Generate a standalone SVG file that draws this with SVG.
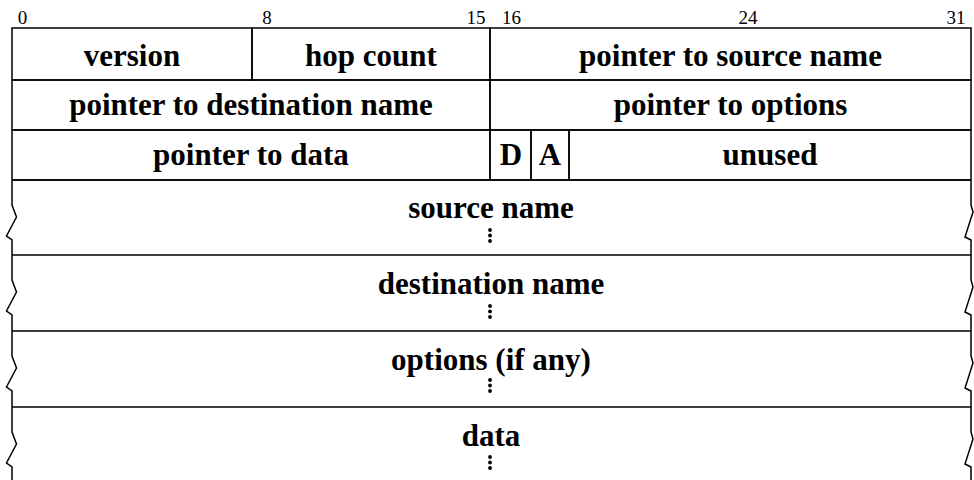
<svg xmlns="http://www.w3.org/2000/svg" width="974" height="480" viewBox="0 0 974 480">
  <style>
    .box { fill: none; stroke: #000; stroke-width: 1.5; stroke-linejoin: miter; }
    .lbl { font-family: "Liberation Serif", "Times New Roman", serif; font-weight: bold; font-size: 31px; fill: #000; text-anchor: middle; }
    .bit { font-family: "Liberation Serif", "Times New Roman", serif; font-size: 19px; fill: #000; text-anchor: middle; }
    .dot { fill: #000; }
  </style>
  <defs>
    <!-- vertical ellipsis marking a variable-length field -->
    <g id="vdots">
      <circle class="dot" cx="0" cy="0" r="1.9"/>
      <circle class="dot" cx="0" cy="5.5" r="1.9"/>
      <circle class="dot" cx="0" cy="11" r="1.9"/>
    </g>
  </defs>
  <rect width="974" height="480" fill="#fff"/>

  <!-- bit positions -->
  <g id="bit-ruler">
    <text class="bit" x="22.5" y="24">0</text>
    <text class="bit" x="267" y="24">8</text>
    <text class="bit" x="476" y="24">15</text>
    <text class="bit" x="511.5" y="24">16</text>
    <text class="bit" x="748" y="24">24</text>
    <text class="bit" x="956" y="24">31</text>
  </g>

  <!-- fixed header words -->
  <g id="version">
    <rect class="box" x="12" y="28" width="240" height="52"/>
    <text class="lbl" x="132" y="66">version</text>
  </g>
  <g id="hop-count">
    <rect class="box" x="252" y="28" width="238" height="52"/>
    <text class="lbl" x="371" y="66">hop count</text>
  </g>
  <g id="ptr-source-name">
    <rect class="box" x="490" y="28" width="481" height="52"/>
    <text class="lbl" x="730.5" y="66">pointer to source name</text>
  </g>
  <g id="ptr-destination-name">
    <rect class="box" x="12" y="80" width="478" height="50"/>
    <text class="lbl" x="251" y="115">pointer to destination name</text>
  </g>
  <g id="ptr-options">
    <rect class="box" x="490" y="80" width="481" height="50"/>
    <text class="lbl" x="730.5" y="115">pointer to options</text>
  </g>
  <g id="ptr-data">
    <rect class="box" x="12" y="130" width="478" height="50"/>
    <text class="lbl" x="251" y="165">pointer to data</text>
  </g>
  <g id="flag-d">
    <rect class="box" x="490" y="130" width="41" height="50"/>
    <text class="lbl" x="511" y="165">D</text>
  </g>
  <g id="flag-a">
    <rect class="box" x="531" y="130" width="38" height="50"/>
    <text class="lbl" x="550" y="165">A</text>
  </g>
  <g id="unused">
    <rect class="box" x="569" y="130" width="402" height="50"/>
    <text class="lbl" x="770" y="165">unused</text>
  </g>

  <!-- variable-length fields, broken sides -->
  <g id="source-name">
    <path class="box" d="M12,180 H971 M12,180 V205 L16.5,217 L6.5,236 L12,240 V255 M971,180 V205 L973,212 L965,237 L971,240 V255"/>
    <text class="lbl" x="491" y="218">source name</text>
    <use href="#vdots" x="490" y="230"/>
  </g>
  <g id="destination-name">
    <path class="box" d="M12,255 H971 M12,255 V280 L16.5,292 L6.5,311 L12,315 V331 M971,255 V280 L973,287 L965,312 L971,315 V331"/>
    <text class="lbl" x="491" y="294">destination name</text>
    <use href="#vdots" x="490" y="306"/>
  </g>
  <g id="options">
    <path class="box" d="M12,331 H971 M12,331 V356 L16.5,368 L6.5,387 L12,391 V407 M971,331 V356 L973,363 L965,388 L971,391 V407"/>
    <text class="lbl" x="491" y="370">options (if any)</text>
    <use href="#vdots" x="490" y="380"/>
  </g>
  <g id="data">
    <path class="box" d="M12,407 H971 M12,407 V432 L16.5,444 L6.5,463 L12,467 V481 M971,407 V432 L973,439 L965,464 L971,467 V481"/>
    <text class="lbl" x="491" y="446">data</text>
    <use href="#vdots" x="490" y="457"/>
  </g>
</svg>
